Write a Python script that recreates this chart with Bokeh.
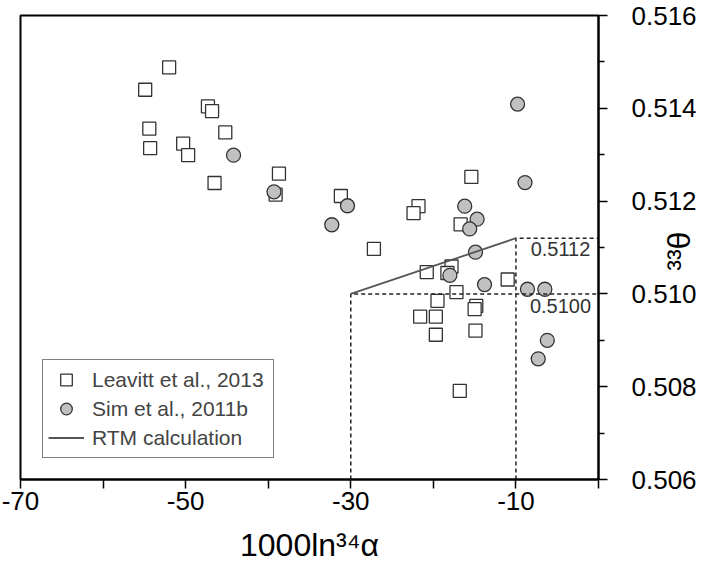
import math
from bokeh.plotting import figure
from bokeh.models import (Range1d, FixedTicker, Legend, LegendItem, Label,
                          PrintfTickFormatter, LinearAxis)
from bokeh.embed import file_html
from bokeh.resources import INLINE

# ---- data ----
leavitt_x = [-52.0, -54.9, -47.3, -46.8, -54.4, -54.3, -50.3, -49.7, -45.2, -46.5,
             -38.7, -39.1, -31.2, -15.4, -21.8, -22.4, -16.7, -27.2, -20.8, -17.8,
             -18.3, -11.0, -17.2, -19.5, -14.8, -15.0, -21.6, -19.7, -19.7, -14.9, -16.8]
leavitt_y = [0.51488, 0.51440, 0.51404, 0.51394, 0.51356, 0.51314, 0.51324, 0.51299, 0.51348, 0.51239,
             0.51259, 0.51214, 0.51211, 0.51252, 0.51189, 0.51174, 0.51150, 0.51097, 0.51047, 0.51059,
             0.51045, 0.51031, 0.51004, 0.50985, 0.50974, 0.50967, 0.50951, 0.50951, 0.50912, 0.50921, 0.50791]

sim_x = [-44.2, -39.3, -30.4, -32.3, -9.8, -8.9, -16.2, -14.7, -15.6, -14.9,
         -18.0, -13.8, -8.6, -6.5, -6.2, -7.3]
sim_y = [0.51299, 0.51220, 0.51190, 0.51149, 0.51409, 0.51240, 0.51189, 0.51161, 0.51140, 0.51090,
         0.51040, 0.51020, 0.51010, 0.51010, 0.50900, 0.50860]

rtm_x = [-30.0, -10.0]
rtm_y = [0.5100, 0.5112]
rtm_labels = ["0.5100", "0.5112"]

x_ticks = [-70, -60, -50, -40, -30, -20, -10, 0]
x_tick_labels = {-70: "-70", -60: "", -50: "-50", -40: "", -30: "-30", -20: "", -10: "-10", 0: ""}
y_ticks = [0.506, 0.508, 0.510, 0.512, 0.514, 0.516]
y_minor_ticks = [0.507, 0.509, 0.511, 0.513, 0.515]
x_title = "1000ln\u00b3\u2074\u03b1"
y_title = "\u00b3\u00b3\u03b8"

FONT = "Liberation Sans"

p = figure(width=718, height=566,
           x_range=Range1d(-70, 0), y_range=Range1d(0.506, 0.516),
           output_backend="svg", toolbar_location=None,
           y_axis_location="right",
           min_border_left=20, min_border_top=15,
           min_border_right=120, min_border_bottom=87)
p.grid.visible = False
p.background_fill_color = "white"
p.border_fill_color = "white"
p.outline_line_color = "black"
p.outline_line_width = 2

xa = p.xaxis[0]
xa.ticker = FixedTicker(ticks=x_ticks, minor_ticks=[])
xa.major_label_overrides = x_tick_labels
xa.axis_label = x_title
ya = p.yaxis[0]
ya.ticker = FixedTicker(ticks=y_ticks, minor_ticks=y_minor_ticks)
ya.formatter = PrintfTickFormatter(format="%.3f")

for ax in (xa, ya):
    ax.axis_line_width = 2
    ax.axis_line_color = "black"
    ax.major_tick_in = 0
    ax.major_tick_out = 9
    ax.major_tick_line_width = 1.5
    ax.minor_tick_in = 0
    ax.minor_tick_out = 6
    ax.minor_tick_line_width = 1.5
    ax.major_label_text_font = FONT
    ax.major_label_text_font_size = "26px"
    ax.major_label_text_color = "black"
    ax.axis_label_text_font = FONT
    ax.axis_label_text_font_style = "normal"
    ax.axis_label_text_font_size = "32px"
    ax.axis_label_text_color = "black"

xa.major_label_standoff = 3
xa.axis_label_standoff = 14
ya.major_label_standoff = 24

# y title drawn as the single label of an extra, invisible right axis
# (rotated to read bottom-to-top like the reference)
theta_axis = LinearAxis(
    ticker=FixedTicker(ticks=[0.5105], minor_ticks=[]),
    formatter=PrintfTickFormatter(format=y_title),
    axis_line_color=None, major_tick_line_color=None, minor_tick_line_color=None,
    major_tick_in=0, major_tick_out=0, minor_tick_in=0, minor_tick_out=0,
    major_label_orientation=math.pi / 2, major_label_standoff=-20,
    major_label_text_font=FONT, major_label_text_font_size="32px",
    major_label_text_color="black")
p.add_layout(theta_axis, "right")

r_sq = p.scatter(leavitt_x, leavitt_y, marker="square", size=13,
                 fill_color="white", line_color="#333333", line_width=1.3)
r_ci = p.scatter(sim_x, sim_y, marker="circle", size=14,
                 fill_color="#c0c0c0", line_color="#333333", line_width=1.3)

# dashed guide lines from the RTM endpoints to the axes
for xv, yv in zip(rtm_x, rtm_y):
    p.line([xv, xv, 0], [0.506, yv, yv], line_color="#222222", line_width=1.5,
           line_dash="4 3")

r_rtm = p.line(rtm_x, rtm_y, line_color="#555555", line_width=1.8)

for yv, txt in zip(rtm_y, rtm_labels):
    off = -0.00026 if txt == "0.5100" else -0.00024
    p.add_layout(Label(x=-4.6, y=yv + off, text=txt, text_align="center",
                       text_baseline="middle", text_font=FONT,
                       text_font_size="20px", text_color="#333333"))

legend = Legend(items=[
    LegendItem(label="Leavitt et al., 2013", renderers=[r_sq]),
    LegendItem(label="Sim et al., 2011b", renderers=[r_ci]),
    LegendItem(label="RTM calculation", renderers=[r_rtm]),
], location=(22, 21))
legend.glyph_width = 36
legend.glyph_height = 29
legend.label_height = 21
legend.label_width = 176
legend.spacing = 0
legend.padding = 5
legend.margin = 0
legend.label_standoff = 8
legend.label_text_font = FONT
legend.label_text_font_size = "21px"
legend.border_line_color = "black"
legend.border_line_width = 1.5
legend.background_fill_color = "white"
legend.background_fill_alpha = 1
p.add_layout(legend)

open("out.html", "w").write(file_html(p, INLINE))
